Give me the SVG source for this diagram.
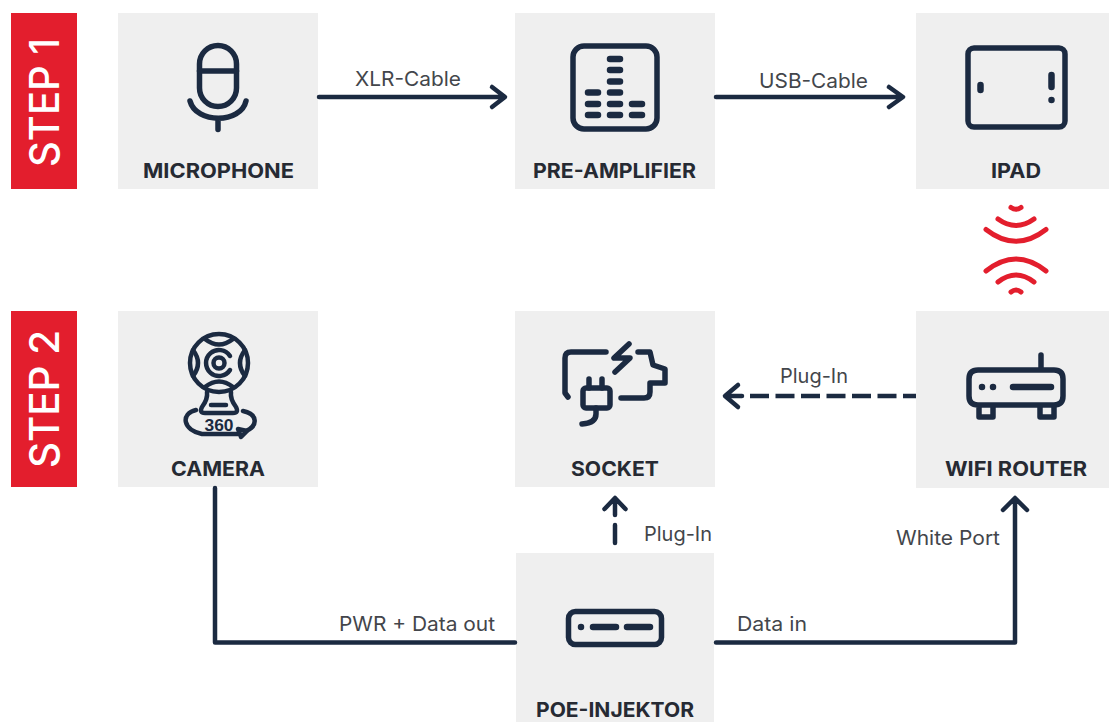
<svg xmlns="http://www.w3.org/2000/svg" width="1109" height="722" viewBox="0 0 1109 722">
<style>
text{font-family:"Inter","Liberation Sans",sans-serif}
.box{fill:#efefef}
.step{fill:#e31e2d}
.st{fill:#fff;font-size:41px;font-weight:500}
.nm{fill:#262a33;font-size:20px;font-weight:700}
.lb{fill:#43464b;font-size:20px;font-weight:400}
.i{fill:none;stroke:#1b2a41;stroke-width:5.500;stroke-linecap:round;stroke-linejoin:round}
.d{fill:none;stroke:#1b2a41;stroke-width:6.500;stroke-linecap:round;stroke-linejoin:round}
.c{fill:none;stroke:#1b2a41;stroke-width:4.500;stroke-linecap:round;stroke-linejoin:round}
.w{fill:none;stroke:#e31e2d;stroke-width:5;stroke-linecap:round}
</style>
<g id="step1"><rect class="step" x="11" y="13" width="66" height="176"/><text class="st" transform="translate(59 167) rotate(-90)" textLength="129" lengthAdjust="spacingAndGlyphs">STEP 1</text></g>
<g id="step2"><rect class="step" x="11" y="311" width="66" height="176"/><text class="st" transform="translate(59 468) rotate(-90)" textLength="138" lengthAdjust="spacingAndGlyphs">STEP 2</text></g>

<g id="microphone"><rect class="box" x="118" y="13" width="200" height="176"/>
<rect class="i" x="199.500" y="45.500" width="37" height="61" rx="18.500"/><path class="i" d="M199.500 71H236.500M190 101C196 124 241 124 246 101M218 119V129.500"/>
<text class="nm" x="143" y="178" textLength="151" lengthAdjust="spacingAndGlyphs">MICROPHONE</text></g>

<g id="pre-amplifier"><rect class="box" x="515" y="13" width="200" height="176"/>
<rect class="i" x="573" y="46" width="84" height="83" rx="11"/>
<path class="d" d="M610 59H620M610 70H620M610 81.500H620M610 92.500H620M610 104H620M610 115H620M588 92.500H598M588 104H598M588 115H598M632 104H642M632 115H642"/>
<text class="nm" x="533" y="178" textLength="163" lengthAdjust="spacingAndGlyphs">PRE-AMPLIFIER</text></g>

<g id="ipad"><rect class="box" x="916" y="13" width="193" height="176"/>
<rect class="i" x="968" y="48" width="97" height="79" rx="6"/>
<path class="d" d="M980.500 85V90M1051.500 75V87M1051.500 100V100.100"/>
<text class="nm" x="991" y="178" textLength="50" lengthAdjust="spacingAndGlyphs">IPAD</text></g>

<g id="wifi-signal">
<path class="w" d="M1011 207.500Q1016 211 1021 207.500M998 219Q1016 232 1034 219M986 229.500Q1016 253 1046 229.500"/>
<path class="w" d="M986 271Q1016 247 1046 271M998 282Q1016 268 1034 282M1011 292Q1016 288 1021 292"/>
</g>

<g id="camera"><rect class="box" x="118" y="311" width="200" height="176"/>
<g class="i" style="stroke-width:4.500">
<circle cx="219" cy="363" r="29"/>
<path d="M205 339Q219 350 233 339M193 350Q203 363 193 376M245 350Q235 363 245 376M205 387Q219 376 233 387"/>
<path d="M230 356A13 13 0 1 0 230 370"/><circle cx="219" cy="363" r="5.500"/>
<path d="M207 392Q208 399 202 407Q199 413 205 413H233Q239 413 236 407Q230 399 231 392"/><path d="M211 405H226"/>
<path d="M196 410C180 414 183 430 202 434H238M243 411C258 414 258 426 246 431"/>
<path d="M238 429L241 437L247 431Z"/>
</g>
<text x="219" y="431" text-anchor="middle" textLength="29" lengthAdjust="spacingAndGlyphs" style="font-family:'Liberation Sans',sans-serif;font-size:16px;font-weight:700;fill:#1b2a41">360</text>
<text class="nm" x="171" y="476" textLength="94" lengthAdjust="spacingAndGlyphs">CAMERA</text></g>

<g id="socket"><rect class="box" x="515" y="311" width="200" height="176"/>
<path class="i" d="M606 352H571Q565 352 565 358V393L568 397M629 344L614 358H630L615 372M638 352H650L653 365L665 369V383H650V392Q650 398 644 398H621"/>
<rect class="i" x="583" y="388" width="27" height="20" rx="3"/>
<path class="i" d="M589 379V388M602 379V388M596 408V414Q596 423 582 424"/>
<text class="nm" x="571" y="476" textLength="88" lengthAdjust="spacingAndGlyphs">SOCKET</text></g>

<g id="wifi-router"><rect class="box" x="916" y="311" width="193" height="177"/>
<path class="i" d="M1041 355V370M978 370H1054Q1063 370 1063 379V396Q1063 405 1054 405H978Q969 405 969 396V379Q969 370 978 370ZM979 405V417H993V405M1040 405V417H1054V405"/>
<path class="d" d="M982 387V387.100M993 387V387.100M1013 387H1051"/>
<text class="nm" x="945" y="476" textLength="142" lengthAdjust="spacingAndGlyphs">WIFI ROUTER</text></g>

<g id="poe-injektor"><rect class="box" x="516" y="553" width="198" height="169"/>
<rect class="i" x="568.500" y="611.500" width="93" height="33" rx="7"/>
<path class="d" d="M581 627V627.100M593 627H616M627 627H650"/>
<text class="nm" x="536" y="717" textLength="158" lengthAdjust="spacingAndGlyphs">POE-INJEKTOR</text></g>

<g id="connectors">
<path class="c" d="M319 97H504M492 87L505 97L492 107"/>
<path class="c" d="M716 97H902M889 87L903 97L889 107"/>
<path class="c" d="M750 396H916" style="stroke-dasharray:19 6.500;stroke-linecap:butt"/>
<path class="c" d="M726 396H742M738 385L725 396L738 407"/>
<path class="c" d="M215 488V642.500H515"/>
<path class="c" d="M716 642.500H1015V499M1003 510L1015 498L1027 510"/>
<path class="c" d="M615 525V543M615 499V515M604.500 509L615 498L625.500 509"/>
</g>
<g id="labels">
<text class="lb" x="355" y="86" textLength="106" lengthAdjust="spacingAndGlyphs">XLR-Cable</text>
<text class="lb" x="759" y="88" textLength="109" lengthAdjust="spacingAndGlyphs">USB-Cable</text>
<text class="lb" x="780" y="383" textLength="68" lengthAdjust="spacingAndGlyphs">Plug-In</text>
<text class="lb" x="644" y="541" textLength="68" lengthAdjust="spacingAndGlyphs">Plug-In</text>
<text class="lb" x="896" y="545" textLength="104" lengthAdjust="spacingAndGlyphs">White Port</text>
<text class="lb" x="339" y="631" textLength="156" lengthAdjust="spacingAndGlyphs">PWR + Data out</text>
<text class="lb" x="737" y="631" textLength="70" lengthAdjust="spacingAndGlyphs">Data in</text>
</g>
</svg>
